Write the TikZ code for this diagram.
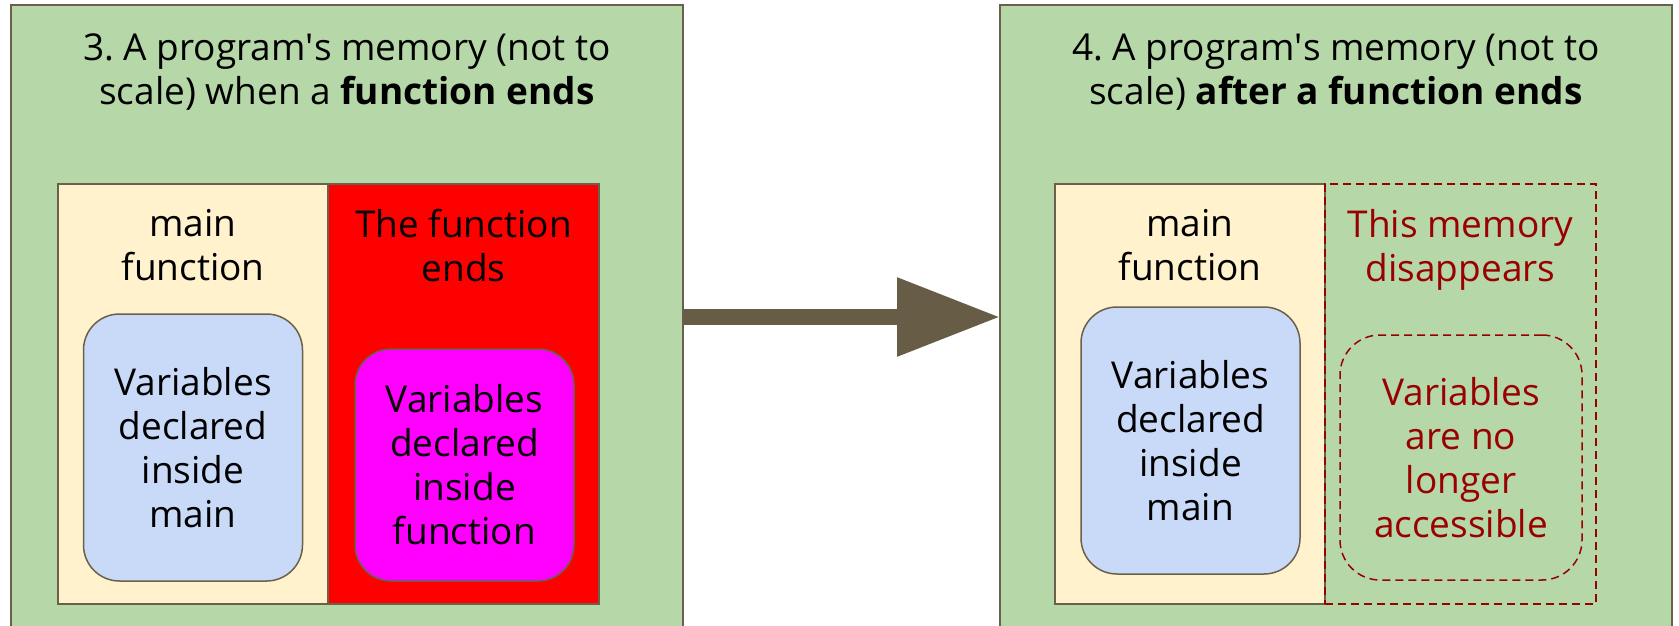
\documentclass[tikz,border=0pt]{standalone}
\usepackage{fontspec}
\setmainfont{Open Sans}
\usetikzlibrary{arrows.meta}
\definecolor{panelgreen}{HTML}{B6D7A8}
\definecolor{edgegrey}{HTML}{6B604A}
\definecolor{mainbg}{HTML}{FFF2CC}
\definecolor{varblue}{HTML}{C9DAF8}
\definecolor{endred}{HTML}{FF0000}
\definecolor{varmagenta}{HTML}{FF00FF}
\definecolor{gonered}{HTML}{990000}
\definecolor{arrowbrown}{HTML}{675C45}
\frenchspacing
\begin{document}
\begin{tikzpicture}[x=1pt,y=-1pt,
  every node/.style={inner sep=0pt, outer sep=0pt},
  txt/.style={font=\fontsize{37}{44}\selectfont, align=center},
  panel/.style={draw=edgegrey, line width=1.5pt, fill=panelgreen, anchor=north west,
                minimum width=672pt, minimum height=640pt},
  column/.style={draw=edgegrey, line width=2pt, anchor=north west, minimum height=420pt},
  varbox/.style={txt, draw=edgegrey, line width=1.5pt, rounded corners=36pt,
                 anchor=north west, minimum width=219pt},
  gone/.style={draw=gonered, line width=2pt, dash pattern=on 8pt off 5pt},
  heading/.style={txt, anchor=north},
]
\useasboundingbox (0,0) rectangle (1679,625);
\clip (0,0) rectangle (1679,625);
\fill[white] (0,0) rectangle (1679,625);

% reference heights for the text rows
\coordinate (ttl) at (0,34);
\coordinate (hdr) at (0,209);
\coordinate (alevel) at (0,317);

% the two memory panels
\node[panel] (lpanel) at (11,5) {};
\node[panel] (rpanel) at (1000,5) {};

% panel 3: while the function ends
\node[heading] (ltitle) at (lpanel.north |- ttl)
  {3. A program\textquotesingle s memory (not to\\scale) when a \textbf{function ends}};
\node[column, fill=mainbg, minimum width=270pt] (lmain) at (58,184) {};
\node[column, fill=endred, minimum width=271pt] (lfunc) at (328,184) {};
\node[heading] (lmainhdr) at (lmain.north |- hdr) {main\\function};
\node[heading] (lfunchdr) at (lfunc.north |- hdr) {The function\\ends};
\node[varbox, fill=varblue, minimum height=267pt] (lvars) at (83.5,314)
  {Variables\\declared\\inside\\main};
\node[varbox, fill=varmagenta, minimum height=232pt] (fvars) at (355,349)
  {Variables\\declared\\inside\\function};

% panel 4: after the function has ended
\node[heading] (rtitle) at (rpanel.north |- ttl)
  {4. A program\textquotesingle s memory (not to\\scale) \textbf{after a function ends}};
\node[column, fill=mainbg, minimum width=270pt] (rmain) at (1055,184) {};
\node[column, gone, minimum width=271pt] (rgone) at (1325,184) {};
\node[heading] (rmainhdr) at (rmain.north |- hdr) {main\\function};
\node[heading, text=gonered] (rgonehdr) at (rgone.north |- hdr) {This memory\\disappears};
\node[varbox, fill=varblue, minimum height=267pt] (rvars) at (1081,307)
  {Variables\\declared\\inside\\main};
\node[varbox, gone, line width=1.5pt, text=gonered, minimum width=242pt,
      minimum height=245pt, rounded corners=40pt] (lost) at (1340,335)
  {Variables\\are no\\longer\\accessible};

% transition arrow between the panels
\draw[arrowbrown, line width=15.7pt, -{Triangle[length=103pt,width=75pt]}]
  (lpanel.east |- alevel) -- (rpanel.west |- alevel);
\end{tikzpicture}
\end{document}
